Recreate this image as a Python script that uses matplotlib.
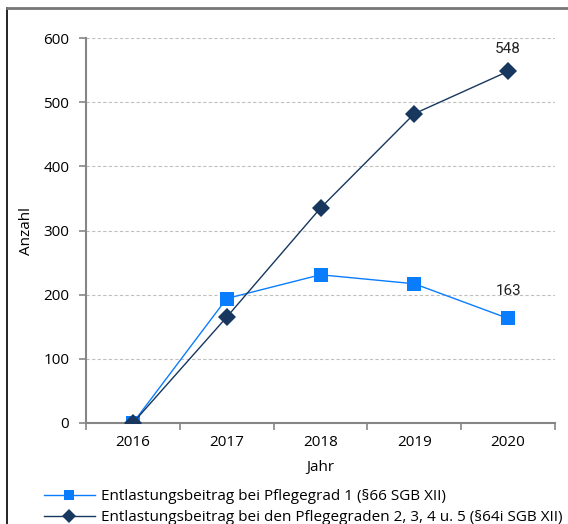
import matplotlib.pyplot as plt
from matplotlib.lines import Line2D

years = ['2016', '2017', '2018', '2019', '2020']
grad1 = [0, 194, 231, 217, 163]
grad2_5 = [0, 165, 335, 482, 548]
label1 = 'Entlastungsbeitrag bei Pflegegrad 1 (§66 SGB XII)'
label2 = 'Entlastungsbeitrag bei den Pflegegraden 2, 3, 4 u. 5 (§64i SGB XII)'

plt.rcParams['font.family'] = ['Open Sans', 'DejaVu Sans']

fig = plt.figure(figsize=(5.68, 5.24), dpi=100)
ax = fig.add_axes([86 / 568, 1 - 423 / 524, (555 - 86) / 568, (423 - 38) / 524])

x = list(range(len(years)))
ax.plot(x, grad1, color='#0A7DFF', lw=1.0, marker='s', markersize=10.5,
        markeredgewidth=0, label=label1, zorder=3)
ax.plot(x, grad2_5, color='#17375E', lw=1.0, marker='D', markersize=9,
        markeredgewidth=0, label=label2, zorder=4)

ax.annotate(str(grad2_5[-1]), (x[-1], grad2_5[-1]), xytext=(0, 11),
            textcoords='offset points', ha='center', va='bottom',
            fontsize=11, family='Roboto', color='#222222')
ax.annotate(str(grad1[-1]), (x[-1], grad1[-1]), xytext=(0, 15),
            textcoords='offset points', ha='center', va='bottom',
            fontsize=11, family='Roboto', color='#222222')

ax.set_xlim(-0.5, len(years) - 0.5)
ax.set_ylim(0, 600)
ax.set_yticks(range(0, 601, 100))
ax.set_xticks(x)
ax.set_xticklabels(years)
ax.set_xticks([i - 0.5 for i in range(len(years) + 1)], minor=True)
ax.tick_params(axis='x', which='major', length=0, pad=9, labelsize=11)
ax.tick_params(axis='x', which='minor', length=5, color='#868686', width=1.2)
ax.tick_params(axis='y', length=5, color='#868686', width=1.2, pad=7,
               labelsize=11)

ax.grid(axis='y', color='#C0C0C0', linestyle=(0, (3, 2)), lw=0.8)
ax.set_axisbelow(True)
for s in ['top', 'right']:
    ax.spines[s].set_visible(False)
for s in ['left', 'bottom']:
    ax.spines[s].set_color('#868686')
    ax.spines[s].set_linewidth(1.5)

ax.set_ylabel('Anzahl', fontsize=11, labelpad=7)
ax.set_xlabel('Jahr', fontsize=11, labelpad=7)

fig.legend(loc='upper left', bbox_to_anchor=(38 / 568, 1 - 483 / 524),
           frameon=False, fontsize=11, handlelength=3.3, handletextpad=0.4,
           labelspacing=0.4, markerscale=0.75, borderaxespad=0)

# figure frame (left and top)
fig.add_artist(Line2D([7 / 568, 7 / 568], [0, 1 - 8 / 524],
                      transform=fig.transFigure, color='black', lw=1.2))
fig.add_artist(Line2D([7 / 568, 1], [1 - 8 / 524, 1 - 8 / 524],
                      transform=fig.transFigure, color='#777777', lw=2))

fig.savefig('out.png', dpi=100)
